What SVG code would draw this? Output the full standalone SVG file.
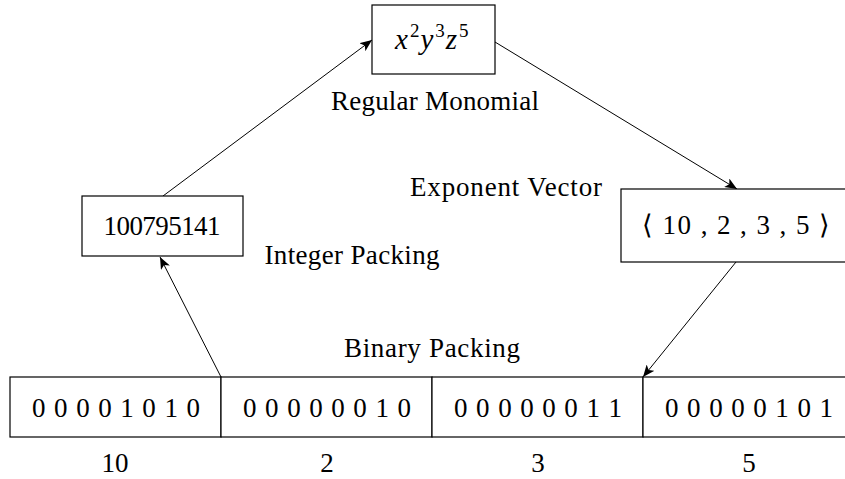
<svg xmlns="http://www.w3.org/2000/svg" width="845" height="479" viewBox="0 0 845 479">
<style>
text{font-family:"Liberation Serif","Times New Roman",serif;font-size:27px;fill:#000}
.c{text-anchor:middle}
.box{fill:#fff;stroke:#000;stroke-width:1.2}
.edge{stroke:#000;stroke-width:1;fill:none;marker-end:url(#ah)}
.m{font-style:italic;font-size:29px}
.sup{font-size:19px;font-style:normal}
</style>
<defs>
<marker id="ah" viewBox="0 0 12 10" refX="12" refY="5" markerWidth="12" markerHeight="10" markerUnits="userSpaceOnUse" orient="auto">
<path d="M0,0 L12,5 L0,10 L3,5 Z" fill="#000"/>
</marker>
</defs>
<rect width="845" height="479" fill="#fff"/>
<g id="connectors">
<line class="edge" x1="163" y1="196" x2="372" y2="40"/>
<line class="edge" x1="495" y1="42" x2="737" y2="189"/>
<line class="edge" x1="736" y1="262" x2="643" y2="377"/>
<line class="edge" x1="221" y1="377" x2="160" y2="257"/>
</g>
<g id="monomial">
<rect class="box" x="372" y="5" width="123" height="69"/>
<text x="395" y="49"><tspan class="m">x</tspan><tspan class="sup" dx="2" dy="-12">2</tspan><tspan class="m" dx="1" dy="12">y</tspan><tspan class="sup" dx="2" dy="-12">3</tspan><tspan class="m" dx="1" dy="12">z</tspan><tspan class="sup" dx="2" dy="-12">5</tspan></text>
<text class="c" x="435" y="110" textLength="208" lengthAdjust="spacing">Regular Monomial</text>
</g>
<g id="exponent">
<rect class="box" x="621" y="189" width="240" height="73"/>
<text x="642" y="234" textLength="188" lengthAdjust="spacing">⟨ 10 , 2 , 3 , 5 ⟩</text>
<text class="c" x="506" y="196" textLength="192" lengthAdjust="spacing">Exponent Vector</text>
</g>
<g id="integer">
<rect class="box" x="82" y="196" width="161" height="60"/>
<text class="c" x="162" y="235" textLength="117" lengthAdjust="spacing">100795141</text>
<text class="c" x="352" y="264" textLength="175" lengthAdjust="spacing">Integer Packing</text>
</g>
<g id="binary">
<rect class="box" x="10" y="377" width="211" height="60"/>
<rect class="box" x="221" y="377" width="211" height="60"/>
<rect class="box" x="432" y="377" width="211" height="60"/>
<rect class="box" x="643" y="377" width="211" height="60"/>
<text class="c" x="116" y="417" textLength="168" lengthAdjust="spacing">0 0 0 0 1 0 1 0</text>
<text class="c" x="327" y="417" textLength="168" lengthAdjust="spacing">0 0 0 0 0 0 1 0</text>
<text class="c" x="538" y="417" textLength="168" lengthAdjust="spacing">0 0 0 0 0 0 1 1</text>
<text class="c" x="749" y="417" textLength="168" lengthAdjust="spacing">0 0 0 0 0 1 0 1</text>
<text class="c" x="432" y="357" textLength="176" lengthAdjust="spacing">Binary Packing</text>
<text class="c" x="115" y="472">10</text>
<text class="c" x="327" y="472">2</text>
<text class="c" x="538" y="472">3</text>
<text class="c" x="749" y="472">5</text>
</g>
</svg>
